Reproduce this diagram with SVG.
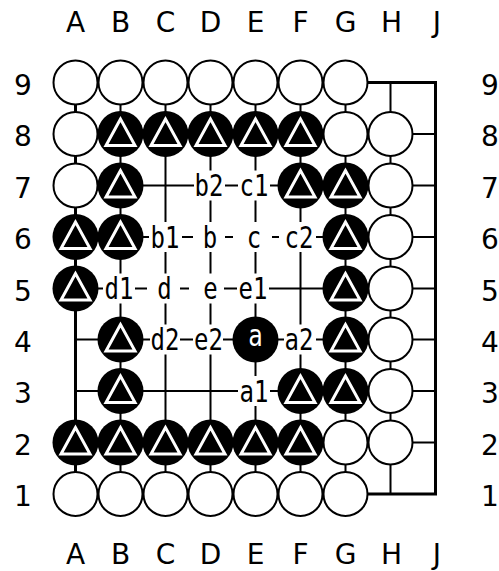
<svg xmlns="http://www.w3.org/2000/svg" xmlns:xlink="http://www.w3.org/1999/xlink" width="499" height="571" viewBox="0 0 499 571">
<style>
.coord{font-family:"DejaVu Sans","Liberation Sans",sans-serif;font-size:28px;fill:#000;text-anchor:middle}
.lbl{font-family:"DejaVu Sans Mono","Liberation Mono",monospace;font-size:24px;fill:#000;text-anchor:middle}
.ko{fill:#fff}
.edge{stroke:#000;stroke-width:3;fill:none;stroke-linecap:square}
.inner{stroke:#000;stroke-width:2;fill:none}
</style>
<defs>
<g id="w"><circle r="22" fill="#fff" stroke="#000" stroke-width="2"/></g>
<g id="bt"><circle r="23" fill="#000"/><polygon points="0,-15 -14.5,11.5 14.5,11.5" fill="#000" stroke="#fff" stroke-width="3"/></g>
</defs>
<rect width="499" height="571" fill="#fff"/>
<g id="coordinates">
<text class="coord" x="75.5" y="32">A</text><text class="coord" x="120.5" y="32">B</text><text class="coord" x="165.5" y="32">C</text><text class="coord" x="210.5" y="32">D</text><text class="coord" x="255.5" y="32">E</text><text class="coord" x="300.5" y="32">F</text><text class="coord" x="345.5" y="32">G</text><text class="coord" x="391.5" y="32">H</text><text class="coord" x="437" y="32">J</text>
<text class="coord" x="75.5" y="564">A</text><text class="coord" x="120.5" y="564">B</text><text class="coord" x="165.5" y="564">C</text><text class="coord" x="210.5" y="564">D</text><text class="coord" x="255.5" y="564">E</text><text class="coord" x="300.5" y="564">F</text><text class="coord" x="345.5" y="564">G</text><text class="coord" x="391.5" y="564">H</text><text class="coord" x="437" y="564">J</text>
<text class="coord" x="23" y="94.5">9</text><text class="coord" x="23" y="146">8</text><text class="coord" x="23" y="197.5">7</text><text class="coord" x="23" y="249">6</text><text class="coord" x="23" y="300.5">5</text><text class="coord" x="23" y="351.5">4</text><text class="coord" x="23" y="403">3</text><text class="coord" x="23" y="454.5">2</text><text class="coord" x="23" y="506">1</text>
<text class="coord" x="490" y="94.5">9</text><text class="coord" x="490" y="146">8</text><text class="coord" x="490" y="197.5">7</text><text class="coord" x="490" y="249">6</text><text class="coord" x="490" y="300.5">5</text><text class="coord" x="490" y="351.5">4</text><text class="coord" x="490" y="403">3</text><text class="coord" x="490" y="454.5">2</text><text class="coord" x="490" y="506">1</text>
</g>
<g id="connectors">
<path class="inner" d="M120.5 82.5V494M165.5 82.5V494M210.5 82.5V494M255.5 82.5V494M300.5 82.5V494M345.5 82.5V494M390.5 82.5V494"/>
<path class="inner" d="M75.5 134H435.5M75.5 185.5H435.5M75.5 237H435.5M75.5 288.5H435.5M75.5 339.5H435.5M75.5 391H435.5M75.5 442.5H435.5"/>
<path class="edge" d="M75.5 82.5H435.5V494H75.5Z"/>
</g>
<g id="A9"><use xlink:href="#w" x="75.5" y="82.5"/></g>
<g id="B9"><use xlink:href="#w" x="120.5" y="82.5"/></g>
<g id="C9"><use xlink:href="#w" x="165.5" y="82.5"/></g>
<g id="D9"><use xlink:href="#w" x="210.5" y="82.5"/></g>
<g id="E9"><use xlink:href="#w" x="255.5" y="82.5"/></g>
<g id="F9"><use xlink:href="#w" x="300.5" y="82.5"/></g>
<g id="G9"><use xlink:href="#w" x="345.5" y="82.5"/></g>
<g id="A8"><use xlink:href="#w" x="75.5" y="134"/></g>
<g id="B8"><use xlink:href="#bt" x="120.5" y="134"/></g>
<g id="C8"><use xlink:href="#bt" x="165.5" y="134"/></g>
<g id="D8"><use xlink:href="#bt" x="210.5" y="134"/></g>
<g id="E8"><use xlink:href="#bt" x="255.5" y="134"/></g>
<g id="F8"><use xlink:href="#bt" x="300.5" y="134"/></g>
<g id="G8"><use xlink:href="#w" x="345.5" y="134"/></g>
<g id="H8"><use xlink:href="#w" x="390.5" y="134"/></g>
<g id="A7"><use xlink:href="#w" x="75.5" y="185.5"/></g>
<g id="B7"><use xlink:href="#bt" x="120.5" y="185.5"/></g>
<g id="F7"><use xlink:href="#bt" x="300.5" y="185.5"/></g>
<g id="G7"><use xlink:href="#bt" x="345.5" y="185.5"/></g>
<g id="H7"><use xlink:href="#w" x="390.5" y="185.5"/></g>
<g id="A6"><use xlink:href="#bt" x="75.5" y="237"/></g>
<g id="B6"><use xlink:href="#bt" x="120.5" y="237"/></g>
<g id="G6"><use xlink:href="#bt" x="345.5" y="237"/></g>
<g id="H6"><use xlink:href="#w" x="390.5" y="237"/></g>
<g id="A5"><use xlink:href="#bt" x="75.5" y="288.5"/></g>
<g id="G5"><use xlink:href="#bt" x="345.5" y="288.5"/></g>
<g id="H5"><use xlink:href="#w" x="390.5" y="288.5"/></g>
<g id="B4"><use xlink:href="#bt" x="120.5" y="339.5"/></g>
<g id="E4"><circle cx="255.5" cy="339.5" r="23" fill="#000"/><text class="lbl" transform="translate(255.5,339.5) scale(1,1.25)" y="5.5" style="fill:#fff">a</text></g>
<g id="G4"><use xlink:href="#bt" x="345.5" y="339.5"/></g>
<g id="H4"><use xlink:href="#w" x="390.5" y="339.5"/></g>
<g id="B3"><use xlink:href="#bt" x="120.5" y="391"/></g>
<g id="F3"><use xlink:href="#bt" x="300.5" y="391"/></g>
<g id="G3"><use xlink:href="#bt" x="345.5" y="391"/></g>
<g id="H3"><use xlink:href="#w" x="390.5" y="391"/></g>
<g id="A2"><use xlink:href="#bt" x="75.5" y="442.5"/></g>
<g id="B2"><use xlink:href="#bt" x="120.5" y="442.5"/></g>
<g id="C2"><use xlink:href="#bt" x="165.5" y="442.5"/></g>
<g id="D2"><use xlink:href="#bt" x="210.5" y="442.5"/></g>
<g id="E2"><use xlink:href="#bt" x="255.5" y="442.5"/></g>
<g id="F2"><use xlink:href="#bt" x="300.5" y="442.5"/></g>
<g id="G2"><use xlink:href="#w" x="345.5" y="442.5"/></g>
<g id="H2"><use xlink:href="#w" x="390.5" y="442.5"/></g>
<g id="A1"><use xlink:href="#w" x="75.5" y="494"/></g>
<g id="B1"><use xlink:href="#w" x="120.5" y="494"/></g>
<g id="C1"><use xlink:href="#w" x="165.5" y="494"/></g>
<g id="D1"><use xlink:href="#w" x="210.5" y="494"/></g>
<g id="E1"><use xlink:href="#w" x="255.5" y="494"/></g>
<g id="F1"><use xlink:href="#w" x="300.5" y="494"/></g>
<g id="G1"><use xlink:href="#w" x="345.5" y="494"/></g>
<g id="D7" transform="translate(0,185.5)"><rect class="ko" x="194" y="-15" width="31" height="30"/><text class="lbl" transform="translate(209,0) scale(1,1.25)" y="8.5">b2</text></g>
<g id="E7" transform="translate(0,185.5)"><rect class="ko" x="238" y="-15" width="32" height="30"/><text class="lbl" transform="translate(254,0) scale(1,1.25)" y="8.5">c1</text></g>
<g id="C6" transform="translate(0,237)"><rect class="ko" x="149" y="-15" width="33" height="30"/><text class="lbl" transform="translate(165,0) scale(1,1.25)" y="8.5">b1</text></g>
<g id="D6" transform="translate(0,237)"><rect class="ko" x="193" y="-15" width="32" height="30"/><text class="lbl" transform="translate(210,0) scale(1,1.25)" y="8.5">b</text></g>
<g id="E6" transform="translate(0,237)"><rect class="ko" x="233" y="-15" width="39" height="30"/><text class="lbl" transform="translate(254,0) scale(1,1.25)" y="8.5">c</text></g>
<g id="F6" transform="translate(0,237)"><rect class="ko" x="279" y="-15" width="37" height="30"/><text class="lbl" transform="translate(299,0) scale(1,1.25)" y="8.5">c2</text></g>
<g id="B5" transform="translate(0,288.5)"><rect class="ko" x="103" y="-15" width="32" height="30"/><text class="lbl" transform="translate(119,0) scale(1,1.25)" y="8.5">d1</text></g>
<g id="C5" transform="translate(0,288.5)"><rect class="ko" x="147" y="-15" width="33" height="30"/><text class="lbl" transform="translate(164.5,0) scale(1,1.25)" y="8.5">d</text></g>
<g id="D5" transform="translate(0,288.5)"><rect class="ko" x="189" y="-15" width="35" height="30"/><text class="lbl" transform="translate(210.5,0) scale(1,1.25)" y="8.5">e</text></g>
<g id="E5" transform="translate(0,288.5)"><rect class="ko" x="237" y="-15" width="32" height="30"/><text class="lbl" transform="translate(253,0) scale(1,1.25)" y="8.5">e1</text></g>
<g id="C4" transform="translate(0,339.5)"><rect class="ko" x="150" y="-15" width="30" height="30"/><text class="lbl" transform="translate(165,0) scale(1,1.25)" y="8.5">d2</text></g>
<g id="D4" transform="translate(0,339.5)"><rect class="ko" x="193" y="-15" width="30" height="30"/><text class="lbl" transform="translate(208.5,0) scale(1,1.25)" y="8.5">e2</text></g>
<g id="F4" transform="translate(0,339.5)"><rect class="ko" x="284" y="-15" width="32" height="30"/><text class="lbl" transform="translate(299,0) scale(1,1.25)" y="8.5">a2</text></g>
<g id="E3" transform="translate(0,391)"><rect class="ko" x="238" y="-15" width="32" height="30"/><text class="lbl" transform="translate(254,0) scale(1,1.25)" y="8.5">a1</text></g>
</svg>
